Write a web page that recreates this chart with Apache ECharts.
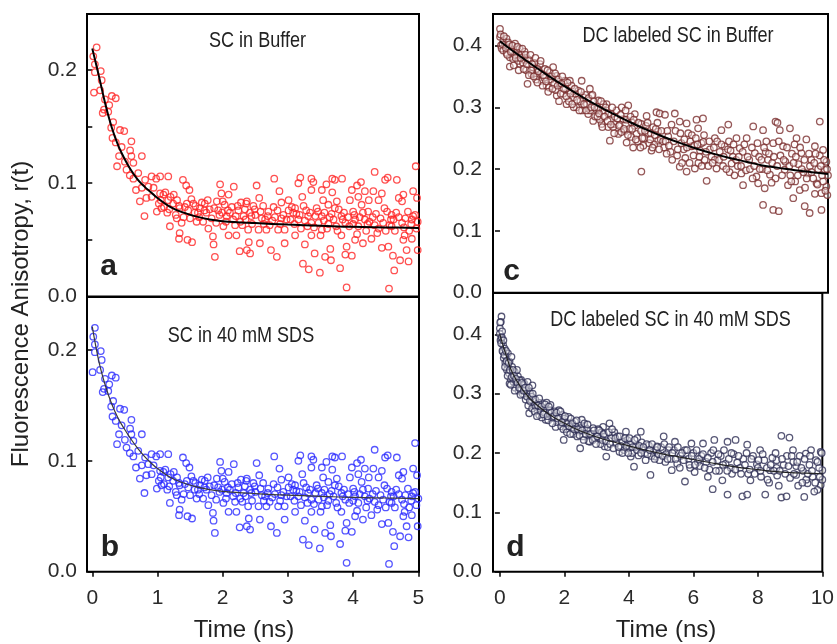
<!DOCTYPE html>
<html>
<head>
<meta charset="utf-8">
<script src="https://cdn.jsdelivr.net/npm/echarts@6/dist/echarts.min.js"></script>
<style>html,body{margin:0;padding:0;background:#fff;}#chart{width:837px;height:644px;}</style>
</head>
<body>
<div id="chart"></div>
<script>
// ---- tick values ----
const timeTicksLeft = [0, 1, 2, 3, 4, 5];
const timeTicksRight = [0, 2, 4, 6, 8, 10];
const yTicksA = [0, 0.05, 0.1, 0.15, 0.2];
const yLabelsLeft = [0, 0.1, 0.2];
const yTicksRight = [0, 0.1, 0.2, 0.3, 0.4];

// ---- panel titles ----
const panelTitles = ['SC in Buffer', 'SC in 40 mM SDS', 'DC labeled SC in Buffer', 'DC labeled SC in 40 mM SDS'];
const panelLetters = ['a', 'b', 'c', 'd'];

// ---- panel a: SC in Buffer, [time ns, r(t)] ----
const bufferPoints = [
[0.067,0.220],[0.015,0.212],[0.04,0.205],[0.04,0.198],[0.13,0.199],[0.144,0.191],[0.026,0.180],[0.12,0.182],[0.195,0.174],[0.30,0.177],
[0.36,0.175],[0.26,0.169],[0.18,0.165],[0.16,0.162],[0.245,0.163],[0.32,0.154],[0.29,0.149],[0.425,0.147],[0.49,0.146],[0.31,0.140],
[0.36,0.136],[0.60,0.137],[0.45,0.132],[0.58,0.129],[0.41,0.124],[0.60,0.124],[0.76,0.124],[0.50,0.119],[0.38,0.115],[0.63,0.118],
[0.525,0.112],[0.575,0.107],[0.63,0.104],[0.705,0.109],[0.81,0.103],[0.91,0.106],[0.98,0.104],[1.04,0.106],[1.165,0.106],[0.67,0.094],
[0.76,0.096],[0.86,0.097],[0.94,0.096],[0.73,0.084],[0.83,0.087],[0.91,0.088],[0.80,0.071],[0.99,0.075],[1.06,0.078],[1.09,0.090],
[1.165,0.085],[1.24,0.082],[1.15,0.074],[1.19,0.062],[1.295,0.069],[1.34,0.078],[1.39,0.103],[1.44,0.098],[1.49,0.094],[1.45,0.082],
[1.37,0.065],[1.34,0.056],[1.33,0.051],[1.46,0.050],[1.53,0.048],[1.55,0.082],[1.57,0.074],[1.60,0.066],[1.65,0.078],[1.725,0.082],
[1.75,0.074],[1.78,0.060],[1.85,0.053],[1.86,0.046],[1.88,0.035],[1.91,0.084],[1.96,0.099],[1.98,0.091],[2.09,0.090],[2.17,0.097],
[1.93,0.076],[2.03,0.081],[2.06,0.071],[2.11,0.074],[2.01,0.062],[2.09,0.054],[2.19,0.063],[2.21,0.054],[2.24,0.076],[2.32,0.071],
[2.36,0.082],[2.26,0.040],[2.37,0.041],[1.04,0.091],
[1.02,0.082],[1.10,0.079],[1.20,0.088],[1.28,0.072],[1.30,0.085],[1.42,0.079],[1.50,0.069],[1.52,0.086],[1.62,0.074],[1.68,0.083],
[1.70,0.066],[1.80,0.077],[1.83,0.069],[1.95,0.072],[2.00,0.084],[2.05,0.066],[2.14,0.079],[2.20,0.071],[2.28,0.083],[2.30,0.063],[2.42,0.074],
[2.52,0.098],[2.79,0.104],[2.87,0.093],[2.90,0.083],[2.56,0.087],[2.37,0.084],[2.47,0.080],[2.62,0.080],[2.34,0.077],[2.78,0.079],
[3.19,0.105],[3.16,0.100],[3.36,0.104],[3.39,0.101],[3.36,0.094],[3.22,0.088],[3.24,0.080],[3.01,0.076],[3.11,0.078],[3.08,0.074],
[3.31,0.071],[3.44,0.078],[3.52,0.094],[3.59,0.099],[3.68,0.104],[3.72,0.103],[3.83,0.104],[3.68,0.092],[3.54,0.085],[3.62,0.081],
[3.75,0.084],[3.78,0.077],[3.52,0.071],[3.67,0.073],[3.98,0.094],[4.06,0.098],[4.12,0.101],[4.18,0.093],[3.95,0.085],[4.08,0.088],
[4.13,0.081],[4.24,0.085],[4.31,0.093],[4.33,0.110],[4.39,0.085],[4.44,0.091],[4.49,0.103],[4.53,0.105],[4.67,0.103],[4.70,0.087],
[4.75,0.084],[4.77,0.090],[4.48,0.078],[4.59,0.072],[4.58,0.068],[4.92,0.093],[4.96,0.115],[4.98,0.087],[4.90,0.068],[4.99,0.066],[4.92,0.071],
[2.39,0.059],[2.55,0.059],[2.40,0.048],[2.57,0.047],[2.42,0.038],[2.74,0.041],[2.83,0.035],[2.67,0.059],[2.95,0.047],[3.26,0.046],
[3.23,0.029],[3.32,0.024],[3.41,0.038],[3.49,0.021],[3.57,0.035],[3.65,0.042],[3.66,0.032],[3.80,0.025],[3.88,0.037],[3.90,0.044],
[3.98,0.036],[3.90,0.008],[4.03,0.050],[4.15,0.047],[4.28,0.051],[4.44,0.043],[4.54,0.044],[4.61,0.036],[4.72,0.032],[4.63,0.023],
[4.55,0.007],[4.77,0.050],[4.79,0.054],[4.85,0.031],[4.82,0.041],[4.90,0.051],[4.99,0.041],[3.36,0.054],[3.50,0.054],[3.82,0.054],
[3.11,0.054],[2.85,0.059],[4.08,0.062],[4.39,0.060],
[2.44,0.071],[2.65,0.068],[2.90,0.069],[3.16,0.068],[3.36,0.065],[3.62,0.064],[3.88,0.065],[4.03,0.068],[4.18,0.068],[4.33,0.063],
[4.59,0.062],[4.75,0.065],[2.95,0.059],[3.52,0.059],[4.23,0.075],[3.01,0.085],[4.00,0.075],[3.82,0.071],
[2.50,0.072],[2.60,0.069],[2.70,0.075],[2.72,0.063],[2.80,0.070],[2.93,0.072],[3.04,0.068],[3.13,0.073],[3.20,0.060],[3.28,0.076],
[3.30,0.062],[3.42,0.071],[3.47,0.065],[3.56,0.074],[3.60,0.060],[3.70,0.068],[3.74,0.062],[3.86,0.074],[3.92,0.070],[4.00,0.064],
[4.10,0.070],[4.20,0.058],[4.25,0.066],[4.35,0.073],[4.42,0.069],[4.50,0.058],[4.62,0.068],[4.66,0.074],[4.80,0.069],[4.86,0.058],[4.95,0.072],
[1.05,0.085],[1.12,0.092],[1.18,0.077],[1.25,0.090],[1.33,0.080],[1.40,0.070],[1.47,0.076],[1.58,0.080],[1.64,0.070],[1.72,0.076],
[1.77,0.085],[1.87,0.078],[1.90,0.065],[1.99,0.074],[2.08,0.076],[2.16,0.068],[2.23,0.080],[2.27,0.066],[2.35,0.068],[2.45,0.064],
[2.49,0.077],[2.58,0.075],[2.63,0.064],[2.69,0.071],[2.76,0.067],[2.84,0.076],[2.88,0.064],[2.98,0.068],[3.06,0.079],[3.10,0.064],
[3.18,0.072],[3.26,0.067],[3.34,0.074],[3.40,0.061],[3.46,0.075],[3.55,0.067],[3.64,0.070],[3.72,0.078],[3.76,0.058],[3.84,0.068],
[3.94,0.062],[4.02,0.072],[4.06,0.055],[4.15,0.074],[4.22,0.064],[4.30,0.070],[4.37,0.056],[4.46,0.065],[4.52,0.075],[4.56,0.063],
[4.64,0.058],[4.70,0.070],[4.78,0.061],[4.84,0.075],[4.89,0.064],[4.97,0.060]
];
const bufferFit = [[0,0.219],[0.05,0.207],[0.1,0.195],[0.2,0.170],[0.3,0.149],[0.4,0.133],[0.5,0.121],[0.6,0.111],[0.7,0.103],[0.8,0.097],
[0.9,0.092],[1.0,0.087],[1.2,0.079],[1.4,0.074],[1.6,0.0705],[1.8,0.068],[2.0,0.0665],[2.5,0.0648],[3.0,0.0635],[3.5,0.0625],[4.0,0.0615],[4.5,0.061],[5.0,0.0605]];

// ---- panel b: SC in 40 mM SDS ----
const sdsPoints = [
[0.04,0.220],[0.015,0.212],[0.04,0.205],[0.04,0.198],[0.13,0.199],[0.144,0.191],[0.005,0.180],[0.12,0.182],[0.195,0.174],[0.30,0.177],
[0.36,0.175],[0.26,0.169],[0.18,0.165],[0.16,0.162],[0.245,0.163],[0.32,0.154],[0.29,0.149],[0.425,0.147],[0.49,0.146],[0.31,0.140],
[0.36,0.136],[0.60,0.137],[0.45,0.132],[0.58,0.129],[0.41,0.124],[0.60,0.124],[0.76,0.124],[0.50,0.119],[0.38,0.115],[0.63,0.118],
[0.525,0.112],[0.575,0.107],[0.63,0.104],[0.705,0.109],[0.81,0.103],[0.91,0.106],[0.98,0.104],[1.04,0.106],[1.165,0.106],[0.67,0.094],
[0.76,0.096],[0.86,0.097],[0.94,0.096],[0.73,0.084],[0.83,0.087],[0.91,0.088],[0.80,0.071],[0.99,0.075],[1.06,0.078],[1.09,0.090],
[1.165,0.085],[1.24,0.082],[1.15,0.074],[1.19,0.062],[1.295,0.069],[1.34,0.078],[1.39,0.103],[1.44,0.098],[1.49,0.094],[1.45,0.082],
[1.37,0.065],[1.34,0.056],[1.33,0.051],[1.46,0.050],[1.53,0.048],[1.55,0.082],[1.57,0.074],[1.60,0.066],[1.65,0.078],[1.725,0.082],
[1.75,0.074],[1.78,0.060],[1.85,0.053],[1.86,0.046],[1.88,0.035],[1.91,0.084],[1.96,0.099],[1.98,0.091],[2.09,0.090],[2.17,0.097],
[1.93,0.076],[2.03,0.081],[2.06,0.071],[2.11,0.074],[2.01,0.062],[2.09,0.054],[2.19,0.063],[2.21,0.054],[2.24,0.076],[2.32,0.071],
[2.36,0.082],[2.26,0.040],[2.37,0.041],[1.04,0.091],
[1.02,0.082],[1.10,0.079],[1.20,0.088],[1.28,0.072],[1.30,0.085],[1.42,0.079],[1.50,0.069],[1.52,0.086],[1.62,0.074],[1.68,0.083],
[1.70,0.066],[1.80,0.077],[1.83,0.069],[1.95,0.072],[2.00,0.084],[2.05,0.066],[2.14,0.079],[2.20,0.071],[2.28,0.083],[2.30,0.063],[2.42,0.074],
[2.52,0.098],[2.79,0.104],[2.87,0.093],[2.90,0.083],[2.56,0.087],[2.37,0.084],[2.47,0.080],[2.62,0.080],[2.34,0.077],[2.78,0.079],
[3.19,0.105],[3.16,0.100],[3.36,0.104],[3.39,0.101],[3.36,0.094],[3.22,0.088],[3.24,0.080],[3.01,0.076],[3.11,0.078],[3.08,0.074],
[3.31,0.071],[3.44,0.078],[3.52,0.094],[3.59,0.099],[3.68,0.104],[3.72,0.103],[3.83,0.104],[3.68,0.092],[3.54,0.085],[3.62,0.081],
[3.75,0.084],[3.78,0.077],[3.52,0.071],[3.67,0.073],[3.98,0.094],[4.06,0.098],[4.12,0.101],[4.18,0.093],[3.95,0.085],[4.08,0.088],
[4.13,0.081],[4.24,0.085],[4.31,0.093],[4.33,0.110],[4.39,0.085],[4.44,0.091],[4.49,0.103],[4.53,0.105],[4.67,0.103],[4.70,0.087],
[4.75,0.084],[4.77,0.090],[4.48,0.078],[4.59,0.072],[4.58,0.068],[4.92,0.093],[4.95,0.116],[4.98,0.087],[4.90,0.068],[5.00,0.066],[4.92,0.071],
[2.39,0.059],[2.55,0.059],[2.40,0.048],[2.57,0.047],[2.42,0.038],[2.74,0.041],[2.83,0.035],[2.67,0.059],[2.95,0.047],[3.26,0.046],
[3.23,0.029],[3.32,0.024],[3.41,0.038],[3.49,0.021],[3.57,0.035],[3.65,0.042],[3.66,0.032],[3.80,0.025],[3.88,0.037],[3.90,0.044],
[3.98,0.036],[3.90,0.008],[4.03,0.050],[4.15,0.047],[4.28,0.051],[4.44,0.043],[4.54,0.044],[4.61,0.036],[4.72,0.032],[4.63,0.023],
[4.55,0.007],[4.77,0.050],[4.79,0.054],[4.85,0.031],[4.82,0.041],[4.90,0.051],[4.99,0.041],[3.36,0.054],[3.50,0.054],[3.82,0.054],
[3.11,0.054],[2.85,0.059],[4.08,0.062],[4.39,0.060],
[2.44,0.071],[2.65,0.068],[2.90,0.069],[3.16,0.068],[3.36,0.065],[3.62,0.064],[3.88,0.065],[4.03,0.068],[4.18,0.068],[4.33,0.063],
[4.59,0.062],[4.75,0.065],[2.95,0.059],[3.52,0.059],[4.23,0.075],[3.01,0.085],[4.00,0.075],[3.82,0.071],
[2.50,0.072],[2.60,0.069],[2.70,0.075],[2.72,0.063],[2.80,0.070],[2.93,0.072],[3.04,0.068],[3.13,0.073],[3.20,0.060],[3.28,0.076],
[3.30,0.062],[3.42,0.071],[3.47,0.065],[3.56,0.074],[3.60,0.060],[3.70,0.068],[3.74,0.062],[3.86,0.074],[3.92,0.070],[4.00,0.064],
[4.10,0.070],[4.20,0.058],[4.25,0.066],[4.35,0.073],[4.42,0.069],[4.50,0.058],[4.62,0.068],[4.66,0.074],[4.80,0.069],[4.86,0.058],[4.95,0.072],
[1.05,0.085],[1.12,0.092],[1.18,0.077],[1.25,0.090],[1.33,0.080],[1.40,0.070],[1.47,0.076],[1.58,0.080],[1.64,0.070],[1.72,0.076],
[1.77,0.085],[1.87,0.078],[1.90,0.065],[1.99,0.074],[2.08,0.076],[2.16,0.068],[2.23,0.080],[2.27,0.066],[2.35,0.068],[2.45,0.064],
[2.49,0.077],[2.58,0.075],[2.63,0.064],[2.69,0.071],[2.76,0.067],[2.84,0.076],[2.88,0.064],[2.98,0.068],[3.06,0.079],[3.10,0.064],
[3.18,0.072],[3.26,0.067],[3.34,0.074],[3.40,0.061],[3.46,0.075],[3.55,0.067],[3.64,0.070],[3.72,0.078],[3.76,0.058],[3.84,0.068],
[3.94,0.062],[4.02,0.072],[4.06,0.055],[4.15,0.074],[4.22,0.064],[4.30,0.070],[4.37,0.056],[4.46,0.065],[4.52,0.075],[4.56,0.063],
[4.64,0.058],[4.70,0.070],[4.78,0.061],[4.84,0.075],[4.89,0.064],[4.97,0.060]
];
const sdsFit = [[0,0.221],[0.1,0.190],[0.2,0.168],[0.3,0.151],[0.4,0.138],[0.5,0.128],[0.6,0.119],[0.7,0.111],[0.8,0.104],[0.9,0.098],
[1.0,0.093],[1.2,0.085],[1.4,0.080],[1.6,0.0765],[1.8,0.074],[2.0,0.0725],[2.5,0.0705],[3.0,0.069],[3.5,0.068],[4.0,0.067],[4.5,0.0665],[5.0,0.066]];

// ---- panel c: DC labeled SC in Buffer ----
const dcBufferPoints = [
[0.0,0.427],[0.0,0.414],[0.03,0.400],[0.10,0.408],[0.20,0.411],[0.25,0.397],[0.30,0.381],[0.30,0.366],[0.46,0.403],[0.51,0.389],
[0.66,0.386],[0.61,0.370],[0.76,0.376],[0.84,0.338],[0.91,0.376],[1.01,0.365],[0.96,0.354],[1.12,0.351],[1.22,0.370],[1.27,0.343],
[1.37,0.362],[1.42,0.335],[1.52,0.357],[1.62,0.365],[1.73,0.351],[1.73,0.319],[1.83,0.338],[1.93,0.322],[1.98,0.343],[2.08,0.327],
[2.13,0.343],[2.03,0.305],[2.23,0.316],[2.33,0.300],[2.39,0.327],[2.49,0.343],[2.54,0.316],[2.59,0.303],[2.69,0.289],[2.74,0.330],
[2.79,0.319],[2.84,0.278],[2.94,0.297],[3.00,0.311],[3.10,0.273],[3.15,0.295],[3.25,0.305],[3.30,0.268],[3.35,0.246],[3.40,0.289],
[3.50,0.273],[3.55,0.295],[3.61,0.257],[3.71,0.300],[3.76,0.281],[3.81,0.262],[3.86,0.243],[3.91,0.303],[4.01,0.276],[4.06,0.235],
[4.11,0.289],[4.16,0.257],[4.31,0.196],[4.31,0.273],[4.37,0.238],[4.47,0.286],[4.52,0.257],[4.62,0.230],[4.67,0.268],[4.77,0.292],[4.82,0.246],
[4.87,0.290],[5.03,0.288],[5.33,0.290],[4.82,0.261],[5.13,0.253],[5.23,0.272],[5.48,0.277],[5.69,0.274],[5.99,0.280],[6.19,0.282],
[5.74,0.258],[6.04,0.266],[5.53,0.242],[5.84,0.237],[6.14,0.242],[5.48,0.204],[5.69,0.196],[5.94,0.201],[6.30,0.181],[6.24,0.215],
[6.45,0.220],[6.60,0.201],[6.55,0.250],[6.75,0.263],[6.96,0.272],[6.85,0.237],[7.06,0.209],[7.21,0.250],[7.31,0.234],[7.36,0.193],
[7.41,0.174],[7.52,0.250],[7.72,0.269],[7.77,0.226],[7.82,0.188],[7.87,0.177],[8.02,0.263],[8.07,0.169],[8.12,0.245],[8.17,0.215],
[8.23,0.191],[8.40,0.277],[8.46,0.275],[8.53,0.263],[8.33,0.242],[8.02,0.142],[8.33,0.134],[8.50,0.132],[8.63,0.237],[8.68,0.199],
[8.78,0.174],[8.84,0.266],[8.94,0.153],[9.04,0.250],[9.14,0.166],[9.19,0.226],[9.29,0.140],[9.34,0.248],[9.39,0.193],[9.44,0.129],
[9.49,0.215],[9.60,0.237],[9.65,0.177],[9.75,0.277],[9.80,0.161],[9.80,0.134],[9.85,0.231],[9.90,0.199],[9.95,0.172],[9.98,0.158],
[0.05,0.395],[0.10,0.392],[0.15,0.401],[0.20,0.388],[0.25,0.405],[0.35,0.392],[0.40,0.378],[0.45,0.385],[0.55,0.375],[0.60,0.395],
[0.70,0.372],[0.75,0.390],[0.80,0.360],[0.85,0.378],[0.95,0.360],[1.05,0.372],[1.10,0.345],[1.15,0.362],[1.25,0.355],[1.30,0.335],
[1.35,0.348],[1.45,0.360],[1.50,0.332],[1.55,0.345],[1.65,0.338],[1.70,0.328],[1.78,0.345],[1.85,0.322],[1.90,0.350],[2.00,0.330],
[2.10,0.310],[2.18,0.335],[2.25,0.300],[2.30,0.322],[2.45,0.310],[2.50,0.295],[2.60,0.320],[2.65,0.305],[2.75,0.295],[2.85,0.310],
[2.90,0.285],[3.00,0.298],[3.05,0.280],[3.15,0.305],[3.20,0.285],[3.30,0.290],[3.45,0.268],[3.50,0.285],[3.65,0.272],[3.70,0.260],
[3.85,0.280],[3.95,0.265],[4.00,0.252],[4.10,0.270],[4.20,0.245],[4.30,0.262],[4.40,0.250],[4.45,0.270],[4.55,0.242],[4.60,0.258],
[4.70,0.240],[4.75,0.265],[4.90,0.248],[5.00,0.235],[5.10,0.262],[5.20,0.228],[5.30,0.245],[5.40,0.222],[5.60,0.232],[5.65,0.218],
[5.80,0.245],[5.90,0.222],[6.05,0.210],[6.10,0.230],[6.20,0.244],[6.35,0.205],[6.40,0.232],[6.55,0.215],[6.70,0.228],[6.80,0.205],
[6.95,0.232],[7.00,0.195],[7.10,0.220],[7.25,0.205],[7.40,0.228],[7.50,0.198],[7.60,0.215],[7.70,0.185],[7.90,0.220],[8.00,0.200],
[8.10,0.228],[8.30,0.210],[8.40,0.185],[8.55,0.222],[8.70,0.212],[8.85,0.190],[8.90,0.225],[9.00,0.180],[9.10,0.208],[9.25,0.195],
[9.30,0.170],[9.45,0.205],[9.55,0.185],[9.60,0.160],[9.70,0.200],[9.75,0.222],[9.85,0.180],[9.95,0.212],[10.0,0.190],
[0.02,0.418],[0.08,0.402],[0.12,0.415],[0.18,0.396],[0.22,0.385],[0.28,0.402],[0.33,0.390],[0.38,0.400],[0.42,0.368],[0.48,0.380],
[0.53,0.398],[0.57,0.360],[0.63,0.380],[0.68,0.395],[0.72,0.362],[0.78,0.385],[0.82,0.370],[0.88,0.352],[0.93,0.385],[0.98,0.370],
[1.03,0.350],[1.08,0.380],[1.14,0.340],[1.18,0.358],[1.24,0.375],[1.32,0.352],[1.40,0.342],[1.47,0.325],[1.58,0.350],[1.60,0.330],
[1.68,0.355],[1.76,0.335],[1.80,0.310],[1.88,0.338],[1.95,0.330],[2.02,0.318],[2.06,0.340],[2.15,0.322],[2.20,0.305],[2.28,0.330],
[2.35,0.312],[2.42,0.295],[2.47,0.325],[2.56,0.305],[2.63,0.295],[2.70,0.315],[2.78,0.300],[2.82,0.320],[2.88,0.300],[2.97,0.285],
[3.02,0.290],[3.08,0.310],[3.12,0.268],[3.18,0.285],[3.22,0.300],[3.28,0.278],[3.38,0.272],[3.42,0.300],[3.48,0.258],[3.58,0.282],
[3.63,0.270],[3.68,0.288],[3.78,0.265],[3.83,0.295],[3.90,0.255],[3.98,0.285],[4.03,0.265],[4.08,0.280],[4.14,0.248],[4.22,0.275],
[4.28,0.235],[4.34,0.250],[4.42,0.262],[4.50,0.275],[4.58,0.248],[4.65,0.235],[4.72,0.255],[4.80,0.275],[4.85,0.232],[4.92,0.262],
[4.97,0.245],[5.05,0.245],[5.08,0.225],[5.15,0.238],[5.25,0.215],[5.35,0.262],[5.42,0.232],[5.50,0.258],[5.55,0.210],[5.62,0.248],
[5.70,0.235],[5.78,0.210],[5.85,0.255],[5.92,0.238],[5.97,0.250],[6.02,0.240],[6.08,0.220],[6.15,0.205],[6.22,0.255],[6.28,0.228],
[6.38,0.245],[6.48,0.210],[6.52,0.235],[6.62,0.245],[6.68,0.215],[6.75,0.240],[6.82,0.220],[6.90,0.200],[6.98,0.245],[7.03,0.230],
[7.12,0.240],[7.15,0.190],[7.20,0.215],[7.28,0.220],[7.35,0.205],[7.45,0.240],[7.55,0.220],[7.62,0.200],[7.68,0.235],[7.75,0.205],
[7.85,0.242],[7.92,0.200],[7.97,0.215],[8.05,0.235],[8.15,0.198],[8.20,0.225],[8.28,0.178],[8.35,0.220],[8.45,0.205],[8.50,0.245],
[8.60,0.190],[8.65,0.215],[8.75,0.235],[8.82,0.205],[8.88,0.180],[8.95,0.210],[8.98,0.240],[9.02,0.220],[9.08,0.190],[9.15,0.235],
[9.20,0.200],[9.28,0.215],[9.35,0.185],[9.42,0.225],[9.50,0.195],[9.58,0.210],[9.62,0.225],[9.68,0.175],[9.78,0.205],[9.82,0.190],
[9.88,0.215],[9.92,0.165],[9.97,0.200]
];
const dcBufferFit = [[0,0.407],[0.5,0.387],[1,0.368],[1.5,0.350],[2,0.333],[2.5,0.317],[3,0.302],[3.5,0.288],[4,0.275],[4.5,0.263],
[5,0.252],[5.5,0.242],[6,0.233],[6.5,0.225],[7,0.218],[7.5,0.212],[8,0.206],[8.5,0.202],[9,0.198],[9.5,0.195],[10,0.192]];

// ---- panel d: DC labeled SC in 40 mM SDS ----
const dcSdsPoints = [
[0.05,0.430],[0.03,0.421],[0.0,0.410],[0.0,0.401],[0.05,0.393],[0.10,0.382],[0.10,0.371],[0.15,0.376],[0.20,0.362],[0.25,0.368],
[0.30,0.354],[0.36,0.362],[0.25,0.348],[0.36,0.337],[0.30,0.317],[0.46,0.337],[0.51,0.320],[0.56,0.329],[0.66,0.323],[0.76,0.317],
[0.86,0.320],[1.01,0.314],[0.66,0.306],[0.76,0.298],[0.91,0.303],[0.96,0.286],[0.91,0.267],[1.07,0.281],[1.17,0.272],[1.22,0.264],
[1.32,0.284],[1.42,0.275],[1.42,0.256],[1.52,0.267],[1.57,0.281],[1.62,0.259],[1.73,0.244],[1.83,0.272],[1.93,0.264],[1.98,0.222],
[2.03,0.250],[2.13,0.261],[2.23,0.242],[2.33,0.253],[2.44,0.236],[2.49,0.208],[2.54,0.256],[2.64,0.244],[2.69,0.230],[2.79,0.219],
[2.89,0.242],[3.00,0.233],[3.10,0.225],[3.20,0.244],[3.25,0.211],[3.30,0.194],[3.40,0.250],[3.50,0.230],[3.60,0.216],[3.71,0.202],
[3.81,0.219],[3.91,0.236],[4.01,0.208],[4.06,0.194],[4.16,0.177],[4.26,0.225],[4.37,0.236],[4.42,0.205],[4.52,0.188],[4.62,0.213],
[4.67,0.163],[4.77,0.202],
[5.08,0.228],[5.43,0.219],[4.87,0.211],[5.23,0.205],[4.82,0.194],[5.13,0.185],[5.74,0.205],[5.94,0.216],[6.30,0.216],[6.65,0.222],
[7.06,0.219],[7.31,0.222],[7.67,0.214],[5.33,0.171],[5.74,0.152],[6.04,0.168],[6.60,0.139],[6.45,0.160],[6.90,0.154],[7.06,0.130],
[7.16,0.175],[7.52,0.127],[7.67,0.130],[7.77,0.154],[8.07,0.205],[8.23,0.130],[8.38,0.171],[8.58,0.188],[8.73,0.229],[8.98,0.226],
[8.73,0.125],[8.89,0.127],[9.09,0.205],[9.19,0.163],[9.44,0.126],[9.54,0.149],[9.65,0.205],[9.80,0.188],[9.95,0.202],[9.95,0.146],
[9.85,0.138],[10.0,0.171],[6.14,0.185],[6.75,0.188],[7.36,0.184],[7.97,0.181],[8.58,0.175],[9.19,0.178],[9.49,0.199],
[0.02,0.390],[0.07,0.405],[0.12,0.360],[0.17,0.352],[0.22,0.340],[0.28,0.335],[0.33,0.325],[0.38,0.345],[0.42,0.320],[0.48,0.310],
[0.53,0.340],[0.58,0.305],[0.62,0.322],[0.70,0.300],[0.72,0.315],[0.80,0.290],[0.82,0.305],[0.88,0.280],[0.95,0.300],[1.00,0.275],
[1.05,0.292],[1.12,0.278],[1.20,0.285],[1.25,0.270],[1.30,0.260],[1.38,0.268],[1.45,0.285],[1.50,0.255],[1.55,0.272],[1.65,0.260],
[1.70,0.270],[1.78,0.252],[1.85,0.260],[1.90,0.245],[2.00,0.258],[2.05,0.240],[2.10,0.250],[2.20,0.258],[2.28,0.232],[2.35,0.245],
[2.40,0.228],[2.50,0.242],[2.58,0.228],[2.62,0.250],[2.70,0.240],[2.75,0.220],[2.85,0.232],[2.95,0.225],[3.05,0.240],[3.12,0.215],
[3.15,0.235],[3.25,0.228],[3.35,0.210],[3.45,0.225],[3.55,0.235],[3.65,0.228],[3.75,0.212],[3.85,0.205],[3.95,0.222],[4.05,0.215],
[4.10,0.200],[4.20,0.210],[4.30,0.196],[4.40,0.218],[4.50,0.200],[4.55,0.215],[4.70,0.195],[4.85,0.205],[4.95,0.188],[5.00,0.210],
[5.15,0.198],[5.30,0.190],[5.40,0.205],[5.50,0.182],[5.60,0.195],[5.85,0.190],[5.90,0.175],[6.00,0.200],[6.20,0.178],[6.25,0.195],
[6.40,0.185],[6.50,0.172],[6.55,0.200],[6.80,0.170],[6.85,0.195],[7.00,0.182],[7.20,0.165],[7.25,0.198],[7.45,0.175],[7.55,0.190],
[7.70,0.165],[7.85,0.195],[8.00,0.175],[8.10,0.160],[8.20,0.188],[8.35,0.150],[8.45,0.192],[8.60,0.162],[8.65,0.145],[8.80,0.180],
[8.90,0.195],[9.00,0.158],[9.10,0.185],[9.25,0.145],[9.30,0.195],[9.40,0.170],[9.50,0.155],[9.60,0.180],[9.70,0.160],[9.75,0.135],
[9.90,0.175],[10.0,0.155],
[0.01,0.420],[0.04,0.385],[0.06,0.395],[0.08,0.372],[0.11,0.390],[0.14,0.365],[0.16,0.345],[0.19,0.372],[0.21,0.355],[0.24,0.330],
[0.27,0.352],[0.31,0.340],[0.34,0.315],[0.37,0.328],[0.40,0.340],[0.44,0.330],[0.46,0.305],[0.50,0.325],[0.55,0.318],[0.60,0.310],
[0.64,0.298],[0.68,0.318],[0.74,0.305],[0.78,0.310],[0.84,0.295],[0.90,0.310],[0.93,0.288],[0.98,0.295],[1.02,0.300],[1.08,0.270],
[1.10,0.290],[1.15,0.262],[1.18,0.280],[1.22,0.292],[1.28,0.278],[1.35,0.265],[1.40,0.282],[1.48,0.262],[1.52,0.278],[1.60,0.268],
[1.63,0.250],[1.68,0.262],[1.75,0.268],[1.80,0.258],[1.88,0.270],[1.92,0.252],[1.97,0.240],[2.02,0.262],[2.08,0.235],[2.15,0.245],
[2.18,0.232],[2.25,0.250],[2.30,0.240],[2.38,0.255],[2.42,0.240],[2.47,0.230],[2.55,0.238],[2.60,0.222],[2.66,0.232],[2.72,0.248],
[2.80,0.232],[2.88,0.222],[2.92,0.238],[2.98,0.215],[3.02,0.228],[3.08,0.238],[3.18,0.222],[3.22,0.232],[3.30,0.220],[3.38,0.235],
[3.42,0.215],[3.48,0.240],[3.52,0.208],[3.58,0.225],[3.68,0.210],[3.72,0.228],[3.80,0.200],[3.88,0.225],[3.92,0.212],[3.98,0.200],
[4.02,0.225],[4.12,0.210],[4.18,0.222],[4.25,0.205],[4.32,0.212],[4.38,0.200],[4.45,0.210],[4.58,0.198],[4.65,0.205],[4.72,0.215],
[4.80,0.190],[4.88,0.210],[4.92,0.198],[5.05,0.195],[5.10,0.215],[5.20,0.190],[5.25,0.210],[5.35,0.200],[5.45,0.190],[5.52,0.210],
[5.58,0.175],[5.65,0.200],[5.70,0.188],[5.80,0.205],[5.88,0.180],[5.95,0.195],[6.05,0.180],[6.10,0.205],[6.18,0.190],[6.30,0.198],
[6.35,0.175],[6.45,0.192],[6.60,0.185],[6.62,0.205],[6.70,0.170],[6.78,0.198],[6.92,0.180],[6.95,0.205],[7.05,0.170],[7.10,0.190],
[7.18,0.200],[7.30,0.172],[7.40,0.195],[7.48,0.165],[7.60,0.180],[7.65,0.200],[7.75,0.172],[7.80,0.190],[7.90,0.165],[8.02,0.188],
[8.08,0.170],[8.15,0.198],[8.28,0.175],[8.30,0.155],[8.40,0.180],[8.50,0.170],[8.55,0.200],[8.68,0.170],[8.75,0.190],[8.85,0.165],
[8.95,0.178],[9.05,0.195],[9.12,0.165],[9.22,0.185],[9.35,0.175],[9.38,0.150],[9.45,0.190],[9.55,0.165],[9.62,0.195],[9.68,0.170],
[9.78,0.150],[9.85,0.185],[9.92,0.160],[9.98,0.200]
];
const dcSdsFit = [[0,0.400],[0.1,0.381],[0.2,0.364],[0.3,0.347],[0.4,0.334],[0.6,0.315],[0.8,0.300],[1.0,0.288],[1.5,0.266],[2,0.250],
[2.5,0.237],[3,0.227],[3.5,0.219],[4,0.212],[4.5,0.205],[5,0.199],[5.5,0.194],[6,0.189],[6.5,0.184],[7,0.179],[7.5,0.175],[8,0.172],
[8.5,0.169],[9,0.167],[9.5,0.166],[10,0.165]];

// ---- styling / layout (not data) ----
const SANS = "'Liberation Sans',Arial,Helvetica,sans-serif";
const grids = [
  {left: 87, top: 14, width: 332, height: 282.5},
  {left: 87, top: 297, width: 332, height: 274.7},
  {left: 493, top: 14, width: 335, height: 278.7},
  {left: 493, top: 293, width: 335, height: 278.7}
];
const fmt = v => v.toFixed(1);
function tickCfg(vals) {
  return {show: true, inside: false, length: 5, lineStyle: {color: '#000', width: 1.5}, customValues: vals};
}
function labelCfg(vals, margin) {
  return {show: true, margin: margin, color: '#2a2a2a', fontFamily: SANS, fontSize: 21, formatter: fmt, customValues: vals};
}
const hidden = {show: false};

const xAxes = [
  {gridIndex: 0, type: 'value', min: -0.081, max: 5.01, axisLine: hidden, axisTick: hidden, axisLabel: hidden, splitLine: hidden},
  {gridIndex: 1, type: 'value', min: -0.081, max: 5.01, axisLine: hidden, splitLine: hidden,
   axisTick: tickCfg(timeTicksLeft), axisLabel: Object.assign(labelCfg(timeTicksLeft, 16), {formatter: v => String(Math.round(v))})},
  {gridIndex: 2, type: 'value', min: -0.213, max: 10, axisLine: hidden, axisTick: hidden, axisLabel: hidden, splitLine: hidden},
  {gridIndex: 3, type: 'value', min: -0.213, max: 10, axisLine: hidden, splitLine: hidden,
   axisTick: tickCfg(timeTicksRight), axisLabel: Object.assign(labelCfg(timeTicksRight, 16), {formatter: v => String(Math.round(v))})}
];
const yAxes = [
  {gridIndex: 0, type: 'value', min: 0, max: 0.2494, axisLine: hidden, splitLine: hidden, axisTick: tickCfg(yTicksA), axisLabel: labelCfg(yLabelsLeft, 10)},
  {gridIndex: 1, type: 'value', min: 0, max: 0.2478, axisLine: hidden, splitLine: hidden, axisTick: tickCfg(yLabelsLeft), axisLabel: labelCfg(yLabelsLeft, 10)},
  {gridIndex: 2, type: 'value', min: 0, max: 0.451, axisLine: hidden, splitLine: hidden, axisTick: tickCfg(yTicksRight), axisLabel: labelCfg(yTicksRight, 11)},
  {gridIndex: 3, type: 'value', min: 0, max: 0.4696, axisLine: hidden, splitLine: hidden, axisTick: tickCfg(yTicksRight), axisLabel: labelCfg(yTicksRight, 11)}
];

function scatter(i, data, border, fill) {
  return {type: 'scatter', xAxisIndex: i, yAxisIndex: i, data: data, symbol: 'circle', symbolSize: 6.5,
    itemStyle: {color: fill, borderColor: border, borderWidth: 1.3}, silent: true};
}
function fitLine(i, data, color, width) {
  return {type: 'line', xAxisIndex: i, yAxisIndex: i, data: data, smooth: 0.4, showSymbol: false, symbol: 'none',
    lineStyle: {color: color, width: width}, silent: true, z: 5};
}

function txt(x, y, text, font, rot, sx) {
  return {type: 'text', x: x, y: y, rotation: rot || 0, scaleX: sx || 1, silent: true,
    style: {text: text, font: font, fill: '#222', textAlign: 'center', textVerticalAlign: 'middle', align: 'center', verticalAlign: 'middle'}};
}

const option = {
  animation: false,
  backgroundColor: '#fff',
  grid: grids.map(g => Object.assign({show: true, borderColor: '#000', borderWidth: 2, backgroundColor: 'transparent', containLabel: false}, g)),
  xAxis: xAxes,
  yAxis: yAxes,
  series: [
    scatter(0, bufferPoints, '#ff2626', 'rgba(255,255,255,0)'),
    fitLine(0, bufferFit, '#000', 2),
    scatter(1, sdsPoints, '#2a2aff', 'rgba(255,255,255,0)'),
    fitLine(1, sdsFit, '#3a3a3a', 1.2),
    scatter(2, dcBufferPoints, '#7a2e2e', 'rgba(255,245,245,0.55)'),
    fitLine(2, dcBufferFit, '#000', 2),
    scatter(3, dcSdsPoints, '#2e2e55', 'rgba(255,255,255,0.55)'),
    fitLine(3, dcSdsFit, '#222', 1.2)
  ],
  graphic: [
    txt(257.5, 41, panelTitles[0], '22px ' + SANS, 0, 0.82),
    txt(241, 335.5, panelTitles[1], '22px ' + SANS, 0, 0.82),
    txt(678, 36, panelTitles[2], '22px ' + SANS, 0, 0.82),
    txt(670.5, 320, panelTitles[3], '22px ' + SANS, 0, 0.82),
    txt(108.5, 266.5, panelLetters[0], 'bold 30px ' + SANS),
    txt(110, 547.5, panelLetters[1], 'bold 30px ' + SANS),
    txt(511.7, 271.5, panelLetters[2], 'bold 30px ' + SANS),
    txt(515.5, 547.5, panelLetters[3], 'bold 30px ' + SANS),
    txt(244, 630, 'Time (ns)', '24px ' + SANS),
    txt(666, 630, 'Time (ns)', '24px ' + SANS),
    txt(21, 314, 'Fluorescence Anisotropy, r(t)', '24px ' + SANS, Math.PI / 2)
  ]
};

const chart = echarts.init(document.getElementById('chart'), null, {renderer: 'canvas', width: 837, height: 644});
chart.setOption(option);
</script>
</body>
</html>
